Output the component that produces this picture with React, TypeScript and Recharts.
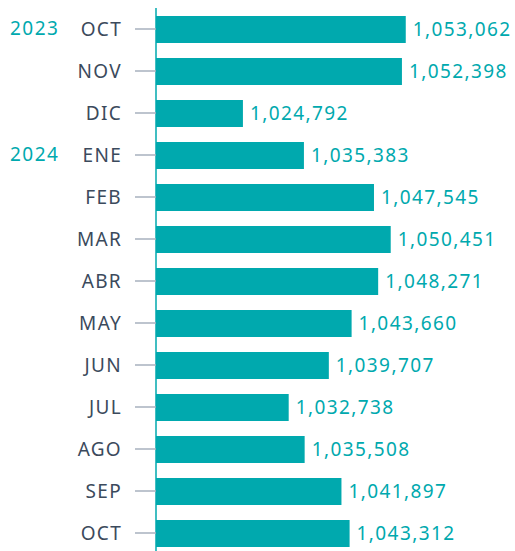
import { BarChart, Bar, XAxis, YAxis, LabelList } from "recharts";

const months = ["OCT", "NOV", "DIC", "ENE", "FEB", "MAR", "ABR", "MAY", "JUN", "JUL", "AGO", "SEP", "OCT"];
const years = ["2023", "", "", "2024", "", "", "", "", "", "", "", "", ""];
const values = [1053062, 1052398, 1024792, 1035383, 1047545, 1050451, 1048271, 1043660, 1039707, 1032738, 1035508, 1041897, 1043312];

const data = months.map((m, i) => ({ key: `${m}-${i}`, month: m, year: years[i], value: values[i] }));

const TEAL = "#00A9AE";
const FONT = "'Noto Sans', sans-serif";

function MonthTick(props: any) {
  const { x, y, payload } = props;
  const row = data[payload.index];
  return (
    <g>
      <line x1={x - 21} y1={y} x2={x} y2={y} stroke="#A7B1BE" strokeWidth={1.5} />
      <text x={x - 34} y={y} dy={7} textAnchor="end" fill="#3B4A5C" fontSize={19} letterSpacing={1.3} fontFamily={FONT}>
        {row.month}
      </text>
      {row.year && (
        <text x={10} y={y} dy={6} textAnchor="start" fill={TEAL} fontSize={19} letterSpacing={1.5} fontFamily={FONT}>
          {row.year}
        </text>
      )}
    </g>
  );
}

export default function App() {
  return (
    <div style={{ position: "fixed", left: 0, top: 0, width: 515, height: 551, overflow: "hidden", background: "#fff" }}>
      <BarChart
        width={515}
        height={560}
        data={data}
        layout="vertical"
        margin={{ top: 8, right: 71, bottom: 6, left: 0 }}
        barSize={27}
      >
        <XAxis type="number" hide domain={[1009700, 1059700]} allowDataOverflow />
        <YAxis
          type="category"
          dataKey="key"
          width={156}
          axisLine={{ stroke: TEAL, strokeWidth: 1.5 }}
          tickLine={false}
          tickSize={0}
          tickMargin={0}
          tick={<MonthTick />}
          interval={0}
        />
        <Bar dataKey="value" fill={TEAL} isAnimationActive={false}>
          <LabelList
            dataKey="value"
            position="right"
            offset={7}
            formatter={(v: any) => Number(v).toLocaleString("en-US")}
            style={{ fill: TEAL, fontSize: 19, fontFamily: FONT, letterSpacing: 1.4 }}
          />
        </Bar>
      </BarChart>
    </div>
  );
}
